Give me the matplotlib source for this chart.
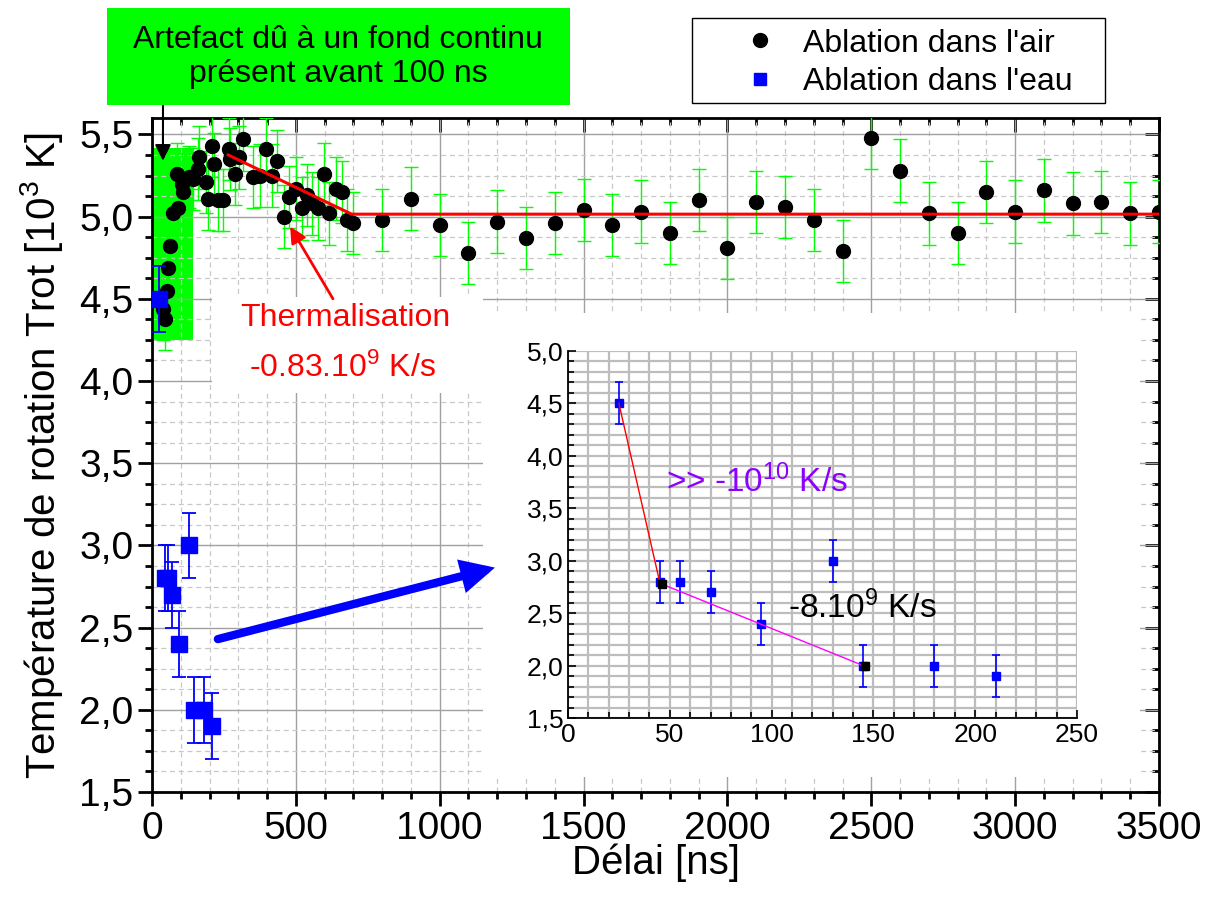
import matplotlib
matplotlib.use("Agg")
import matplotlib.pyplot as plt
from matplotlib.lines import Line2D
from matplotlib.patches import Rectangle
from matplotlib.ticker import MultipleLocator, FuncFormatter

plt.rcParams['font.family'] = ['Liberation Sans', 'DejaVu Sans']
plt.rcParams['mathtext.fontset'] = 'custom'
plt.rcParams['mathtext.rm'] = 'Liberation Sans'
plt.rcParams['mathtext.it'] = 'Liberation Sans:italic'
plt.rcParams['mathtext.bf'] = 'Liberation Sans:bold'

# ablation in air (delay ns, T_rot 10^3 K)
air_x = [38, 45, 51, 57, 63, 74, 88, 91, 103, 109, 130, 144, 161, 164, 188, 196,
         207, 216, 230, 248, 266, 272, 288, 303, 317, 352, 375, 395, 416, 436,
         459, 477, 500, 520, 538, 555, 578, 598, 616, 640, 659, 679, 700,
         800, 900, 1000, 1100, 1200, 1300, 1400, 1500, 1600, 1700, 1800, 1900,
         2000, 2100, 2200, 2300, 2400, 2500, 2600, 2700, 2800, 2900, 3000,
         3100, 3200, 3300, 3400, 3500]
air_y = [4.44, 4.38, 4.55, 4.69, 4.82, 5.02, 5.26, 5.05, 5.20, 5.15, 5.24, 5.23,
         5.29, 5.36, 5.21, 5.11, 5.43, 5.32, 5.10, 5.10, 5.41, 5.35, 5.26, 5.36,
         5.47, 5.24, 5.25, 5.41, 5.25, 5.34, 5.00, 5.12, 5.17, 5.05, 5.13, 5.08,
         5.05, 5.26, 5.02, 5.17, 5.15, 4.98, 4.96,
         4.98, 5.11, 4.95, 4.78, 4.97, 4.87, 4.96, 5.04, 4.95, 5.03, 4.90, 5.10,
         4.81, 5.09, 5.06, 4.98, 4.79, 5.48, 5.28, 5.02, 4.90, 5.15, 5.03,
         5.16, 5.08, 5.09, 5.02, 5.03]
air_err = [0.19] * len(air_x)

# ablation in water
water_x = [25, 45, 55, 70, 95, 130, 145, 180, 210]
water_y = [4.5, 2.8, 2.8, 2.7, 2.4, 3.0, 2.0, 2.0, 1.9]
water_err = [0.2] * len(water_x)

# linear fits
therm_x = [265, 694, 3500]
therm_y = [5.375, 5.015, 5.015]
fast_x = [25, 45]
fast_y = [4.5, 2.8]
slow_x = [47, 145]
slow_y = [2.77, 2.0]
fit_ends_x = [46, 146]
fit_ends_y = [2.78, 2.0]

W, H = 1219, 910
fig = plt.figure(figsize=(W / 100, H / 100), dpi=100)
ax = fig.add_axes([152 / W, 1 - 792 / H, 1007 / W, 674 / H])

comma = FuncFormatter(lambda v, p: f'{v:.1f}'.replace('.', ','))

ax.set_xlim(0, 3500)
ax.set_ylim(1.5, 5.6)
ax.xaxis.set_major_locator(MultipleLocator(500))
ax.xaxis.set_minor_locator(MultipleLocator(100))
ax.yaxis.set_major_locator(MultipleLocator(0.5))
ax.yaxis.set_minor_locator(MultipleLocator(0.125))
ax.yaxis.set_major_formatter(comma)
ax.set_axisbelow(True)
ax.grid(True, which='major', color='#a0a0a0', lw=1.0)
ax.grid(True, which='minor', color='#c8c8c8', lw=0.9, ls=(0, (4, 3)))
ax.tick_params(which='both', direction='out', width=2, labelsize=28)
ax.tick_params(which='major', length=10)
ax.tick_params(which='minor', length=5)
for s in ax.spines.values():
    s.set_linewidth(2)

secx = ax.secondary_xaxis('top')
secx.xaxis.set_major_locator(MultipleLocator(500))
secx.xaxis.set_minor_locator(MultipleLocator(100))
secx.tick_params(which='both', direction='in', width=2, labeltop=False)
secx.tick_params(which='major', length=10)
secx.tick_params(which='minor', length=5)
secy = ax.secondary_yaxis('right')
secy.yaxis.set_major_locator(MultipleLocator(0.5))
secy.yaxis.set_minor_locator(MultipleLocator(0.125))
secy.tick_params(which='both', direction='in', width=2, labelright=False)
secy.tick_params(which='major', length=10)
secy.tick_params(which='minor', length=5)

ax.set_xlabel('Délai [ns]', fontsize=29, labelpad=-2)
ax.set_ylabel('Température de rotation Trot [10$^{3}$ K]', fontsize=29, labelpad=10)

# artefact zone and white boxes behind the texts
ax.add_patch(Rectangle((0, 4.25), 143, 1.17, facecolor='#00ff00', edgecolor='none', zorder=0.3))
ax.add_patch(Rectangle((0.0596, 0.592), 0.2691, 0.142, transform=ax.transAxes,
                       facecolor='white', edgecolor='none', zorder=1))
ax.add_patch(Rectangle((0.3287, 0.0223), 0.6524, 0.6884, transform=ax.transAxes,
                       facecolor='white', edgecolor='none', zorder=1))

ax.errorbar(air_x, air_y, yerr=air_err, fmt='o', color='black', ms=10,
            ecolor='#00ff00', elinewidth=1, capsize=5, capthick=1, zorder=3)
ax.errorbar(water_x, water_y, yerr=water_err, fmt='s', color='blue', ms=11,
            ecolor='blue', elinewidth=1.3, capsize=5, capthick=1.3, zorder=4)
ax.plot(therm_x, therm_y, color='red', lw=2.2, zorder=5)

ax.annotate('', xy=(38, 5.34), xytext=(163 / W, 1 - 95 / H), textcoords='figure fraction',
            arrowprops=dict(arrowstyle='-|>', color='black', lw=1.5, mutation_scale=24,
                            shrinkA=0, shrinkB=0), annotation_clip=False, zorder=6)
ax.annotate('', xy=(480, 4.94), xytext=(629, 4.50),
            arrowprops=dict(arrowstyle='-|>', color='red', lw=2, mutation_scale=24,
                            shrinkA=0, shrinkB=0), zorder=6)
ax.annotate('', xy=(1192, 2.865), xytext=(229, 2.43),
            arrowprops=dict(arrowstyle='-|>', color='blue', lw=6, mutation_scale=38,
                            shrinkA=0, shrinkB=0, joinstyle='miter', capstyle='round'),
            zorder=6)

fig.text(345 / W, 1 - 318 / H, 'Thermalisation', color='red', fontsize=23,
         ha='center', va='center')
fig.text(342 / W, 1 - 368 / H, '-0.83.10$^{9}$ K/s', color='red', fontsize=23,
         ha='center', va='center')

# top annotation box
fig.patches.append(Rectangle((107 / W, 1 - 105 / H), 463 / W, 97 / H, transform=fig.transFigure,
                             facecolor='#00ff00', edgecolor='none', figure=fig))
fig.text(338 / W, 1 - 57 / H, 'Artefact dû à un fond continu\nprésent avant 100 ns',
         fontsize=23, ha='center', va='center', linespacing=1.2)

# legend: box drawn separately, entries placed inside it
fig.patches.append(Rectangle((692 / W, 1 - 103 / H), 413 / W, 85 / H, transform=fig.transFigure,
                             facecolor='white', edgecolor='black', lw=1, figure=fig))
handles = [Line2D([], [], marker='o', color='black', ls='none', ms=10),
           Line2D([], [], marker='s', color='blue', ls='none', ms=9)]
fig.legend(handles, ["Ablation dans l'air", "Ablation dans l'eau"],
           loc='center left', bbox_to_anchor=(738 / W, 1 - 63 / H), fontsize=23,
           frameon=False, handlelength=1.4, handletextpad=0.64, borderpad=0,
           labelspacing=0.28, borderaxespad=0)

# inset
axi = fig.add_axes([568 / W, 1 - 718 / H, 509 / W, 367 / H])
axi.set_xlim(0, 250)
axi.set_ylim(1.5, 5.0)
axi.xaxis.set_major_locator(MultipleLocator(50))
axi.xaxis.set_minor_locator(MultipleLocator(10))
axi.yaxis.set_major_locator(MultipleLocator(0.5))
axi.yaxis.set_minor_locator(MultipleLocator(0.1))
axi.yaxis.set_major_formatter(comma)
axi.set_axisbelow(True)
axi.grid(True, which='both', color='#bdbdbd', lw=1.6)
axi.spines['top'].set_visible(False)
axi.spines['right'].set_visible(False)
for s in ('left', 'bottom'):
    axi.spines[s].set_linewidth(1.3)
axi.tick_params(which='both', direction='in', width=1.2, labelsize=19)
axi.tick_params(which='major', length=6)
axi.tick_params(which='minor', length=4)

axi.errorbar(water_x, water_y, yerr=water_err, fmt='s', color='blue', ms=5.5,
             ecolor='blue', elinewidth=1.2, capsize=3, capthick=1.2, zorder=3)
axi.plot(fast_x, fast_y, color='red', lw=1, zorder=4)
axi.plot(slow_x, slow_y, color='magenta', lw=1, zorder=4)
axi.plot(fit_ends_x, fit_ends_y, 's', color='black', ms=5.5, zorder=5)
axi.text(48, 3.75, '>> -10$^{10}$ K/s', color='#8c00ff', fontsize=24, va='center', ha='left')
axi.text(108, 2.55, '-8.10$^{9}$ K/s', color='black', fontsize=24, va='center', ha='left')

fig.savefig('out.png', dpi=100)
